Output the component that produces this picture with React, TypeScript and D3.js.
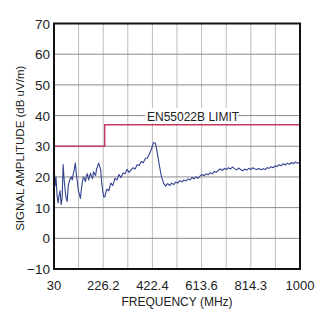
import React from "react";
import * as d3 from "d3";

const W = 322;
const H = 313;

const yTicks = [70, 60, 50, 40, 30, 20, 10, 0, -10];
const xTickLabels = ["30", "226.2", "422.4", "613.6", "814.3", "1000"];
const xGridCount = 10;

const limitFreqs = [30, 230, 230, 1000];
const limitDb = [30, 30, 37, 37];

// low band: 30..226 MHz, sampled every 4 MHz
const lowStart = 30;
const lowStep = 4;
const lowBandDb = [
  25, 17, 20, 14, 11.5, 14, 15.5, 11, 13, 24, 19, 15.5, 13, 12, 17, 18.5, 19.5, 20, 19, 21,
  22.5, 24.5, 21, 18.5, 15.5, 14.5, 13, 16, 18.5, 20, 19.5, 18.5, 20.5, 21, 19, 20, 21.2, 20, 19.5, 21.7,
  21, 20.5, 22.5, 23.5, 24.5, 23.5, 22.3, 18, 15.5, 13.5,
];

// high band: 230..998 MHz, sampled every 8 MHz
const highStart = 230;
const highStep = 8;
const highBandDb = [
  13.5, 16, 15.5, 18, 17.2, 19.5, 19, 20.8, 19.8, 21.3, 21, 22.5, 21.5, 22.3, 23, 22.6, 24, 23.7, 25, 24.6,
  26, 26.2, 27.5, 29, 31.2, 31, 27.5, 23.5, 20, 18, 17, 17.8, 17.2, 18, 17.5, 18.3, 18, 18.8, 18.4, 19,
  18.7, 19.3, 19, 19.8, 19.4, 20, 19.6, 20.3, 20.8, 20.4, 21, 20.7, 21.4, 21, 21.8, 21.5, 22.2, 22.6, 22.1, 22.8,
  22.4, 23, 22.6, 23.2, 22.7, 22.3, 22.9, 22.4, 22, 22.6, 22.2, 22.8, 22.4, 23, 22.6, 22.4, 22.8, 22.3, 22.7, 22.4,
  23, 22.8, 23.3, 23, 23.6, 23.4, 24, 23.6, 24.3, 23.9, 24.5, 24.1, 24.7, 24.3, 24.9, 24.5, 24.7,
];

const PL = 54;
const PR = 300;
const PT = 23.5;
const PB = 269;

export default function App() {
  const x = d3.scaleLinear().domain([30, 1000]).range([PL, PR]);
  const y = d3.scaleLinear().domain([-10, 70]).range([PB, PT]);

  const signal: [number, number][] = [
    ...lowBandDb.map((v, i) => [lowStart + i * lowStep, v] as [number, number]),
    ...highBandDb.map((v, i) => [highStart + i * highStep, v] as [number, number]),
  ];
  const line = d3
    .line<[number, number]>()
    .x((d) => x(d[0]))
    .y((d) => y(d[1]));
  const limit: [number, number][] = limitFreqs.map((f, i) => [f, limitDb[i]]);

  const gridFreqs = d3.range(xGridCount + 1).map((i) => 30 + ((1000 - 30) * i) / xGridCount);
  const font = "'Liberation Sans', Arial, sans-serif";

  return (
    <svg
      width={W}
      height={H}
      style={{ position: "absolute", left: 0, top: 0, background: "#fff" }}
      fontFamily={font}
    >
      {gridFreqs.map((f, i) => (
        <line key={"vg" + i} x1={x(f)} x2={x(f)} y1={PT} y2={PB} stroke="#bdbdbd" strokeWidth={1} />
      ))}
      {yTicks.map((t) => (
        <line key={"hg" + t} x1={PL} x2={PR} y1={y(t)} y2={y(t)} stroke="#8a8a8a" strokeWidth={1} />
      ))}
      <rect x={145} y={108} width={93} height={15} fill="#fff" />
      <text x={147} y={120.5} fontSize={12} fill="#222">
        EN55022B LIMIT
      </text>
      <path d={line(limit) || ""} fill="none" stroke="#c23b5e" strokeWidth={1.4} />
      <path d={line(signal) || ""} fill="none" stroke="#34438f" strokeWidth={1.1} strokeLinejoin="round" />
      <rect x={PL} y={PT} width={PR - PL} height={PB - PT} fill="none" stroke="#111" strokeWidth={2} />
      {yTicks.map((t) => (
        <text key={"yt" + t} x={50} y={y(t) + 5} fontSize={13.5} textAnchor="end" fill="#222">
          {t < 0 ? "\u2212" + Math.abs(t) : String(t)}
        </text>
      ))}
      {xTickLabels.map((l, i) => (
        <text key={"xt" + i} x={x(gridFreqs[i * 2])} y={290} fontSize={13} textAnchor="middle" fill="#222">
          {l}
        </text>
      ))}
      <text x={(PL + PR) / 2} y={306} fontSize={12} textAnchor="middle" fill="#222">
        FREQUENCY (MHz)
      </text>
      <text
        transform={`translate(24, ${(PT + PB) / 2 + 2}) rotate(-90)`}
        fontSize={11.5}
        textAnchor="middle"
        fill="#222"
      >
        SIGNAL AMPLITUDE (dB uV/m)
      </text>
    </svg>
  );
}
